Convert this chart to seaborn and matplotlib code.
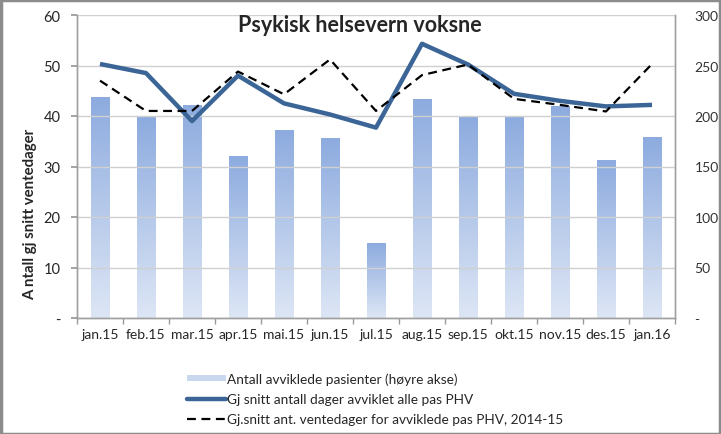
import numpy as np
import pandas as pd
import matplotlib
matplotlib.use("Agg")
import matplotlib.pyplot as plt
import seaborn as sns
from matplotlib.patches import Patch, Rectangle
from matplotlib.lines import Line2D
from matplotlib.colors import LinearSegmentedColormap

months = ["jan.15", "feb.15", "mar.15", "apr.15", "mai.15", "jun.15", "jul.15",
          "aug.15", "sep.15", "okt.15", "nov.15", "des.15", "jan.16"]
pasienter = [219, 200, 211, 160, 186, 178, 74, 217, 200, 200, 210, 156, 179]
snitt_alle = [50.3, 48.5, 39.0, 48.0, 42.5, 40.3, 37.7, 54.3, 50.2, 44.4, 43.0, 41.9, 42.2]
snitt_2014_15 = [47.0, 41.0, 41.0, 48.8, 44.3, 51.2, 41.0, 48.1, 50.2, 43.4, 42.2, 40.9, 50.3]

left_ticks = [0, 10, 20, 30, 40, 50, 60]
right_ticks = [0, 50, 100, 150, 200, 250, 300]

title = "Psykisk helsevern voksne"
ylabel = "A ntall gj snitt ventedager"
lab_bar = "Antall avviklede pasienter (høyre akse)"
lab_solid = "Gj snitt antall dager avviklet alle pas PHV"
lab_dash = "Gj.snitt ant. ventedager for avviklede pas PHV, 2014-15"

sns.set_theme(style="white")
plt.rcParams["font.family"] = ["Lato", "DejaVu Sans"]

df = pd.DataFrame({"month": months, "pasienter": pasienter,
                   "alle": snitt_alle, "ref": snitt_2014_15,
                   "pos": np.arange(len(months))})

fig = plt.figure(figsize=(7.21, 4.35), dpi=100)
ax = fig.add_axes([77/721, 1-319/435, (675-77)/721, (319-16)/435])
ax2 = ax.twinx()

sns.barplot(data=df, x="month", y="pasienter", ax=ax2, color="#A9C0E6",
            width=0.4, saturation=1)
cmap = LinearSegmentedColormap.from_list("g", ["#DDE6F5", "#8DABDF"])
grad = np.linspace(0, 1, 256).reshape(-1, 1)
for p in list(ax2.patches):
    x0, y0 = p.get_x(), p.get_y()
    w, h = p.get_width(), p.get_height()
    im = ax2.imshow(grad, cmap=cmap, origin="lower", aspect="auto",
                    extent=[x0, x0 + w, y0, y0 + h], zorder=1)
    im.set_clip_path(p)
    p.set_facecolor("none")
    p.set_edgecolor("none")

sns.lineplot(data=df, x="pos", y="alle", ax=ax, color="#3B6597", lw=3.2,
             solid_capstyle="butt", zorder=5)
sns.lineplot(data=df, x="pos", y="ref", ax=ax, color="black", lw=1.6,
             linestyle=(0, (4, 2.5)), zorder=6)

ax.set_zorder(ax2.get_zorder() + 1)
ax.patch.set_visible(False)

n = len(months)
ax.set_xlim(-0.5, n - 0.5)
ax2.set_xlim(-0.5, n - 0.5)
ax.set_ylim(0, 60)
ax2.set_ylim(0, 300)
ax.set_yticks(left_ticks)
ax.set_yticklabels(["-" if v == 0 else str(v) for v in left_ticks], fontsize=10.5)
ax2.set_yticks(right_ticks)
ax2.set_yticklabels(["-" if v == 0 else str(v) for v in right_ticks], fontsize=10, color="#333333")
ax.set_xticks(np.arange(n))
ax.set_xticklabels(months, fontsize=10)
ax.set_xticks(np.arange(n + 1) - 0.5, minor=True)
ax.tick_params(axis="x", which="major", length=0, pad=7)
ax.tick_params(axis="x", which="minor", length=4, color="#999999", direction="out", bottom=True)
ax.tick_params(axis="y", length=4, color="#999999", left=True, direction="out", pad=8)
ax2.tick_params(axis="y", length=0, pad=14)
ax2.set_xlabel("")
ax2.set_ylabel("")
ax.set_xlabel("")
ax.set_ylabel("")
ax.grid(axis="y", color="#D0D0D0", lw=1)
ax.set_axisbelow(True)
ax2.grid(False)

for a in (ax, ax2):
    a.spines["top"].set_visible(False)
    for s in ("left", "right", "bottom"):
        a.spines[s].set_color("#A0A0A0")
        a.spines[s].set_linewidth(1)

fig.text(30/721, 1-214/435, ylabel, rotation=90, ha="center", va="center",
         fontsize=10.8, fontweight="bold")
fig.text(360/721, 1-25/435, title, ha="center", va="center", fontsize=15.5,
         fontweight="bold")

handles = [Patch(facecolor="#C9D7EF", edgecolor="none"),
           Line2D([], [], color="#3B6597", lw=3.2),
           Line2D([], [], color="black", lw=1.6, linestyle=(0, (4, 2.5)))]
leg = fig.legend(handles, [lab_bar, lab_solid, lab_dash], loc="upper left",
                 bbox_to_anchor=(182/721, 1-368/435), frameon=False, fontsize=9.8,
                 handlelength=2.8, handleheight=0.35, handletextpad=0.1,
                 labelspacing=0.6, borderaxespad=0)

fig.patches.append(Rectangle((0.001, 0.001), 0.997, 0.996, transform=fig.transFigure,
                             fill=False, edgecolor="#8C8C8C", lw=2.5))

fig.savefig("out.png", dpi=100)
